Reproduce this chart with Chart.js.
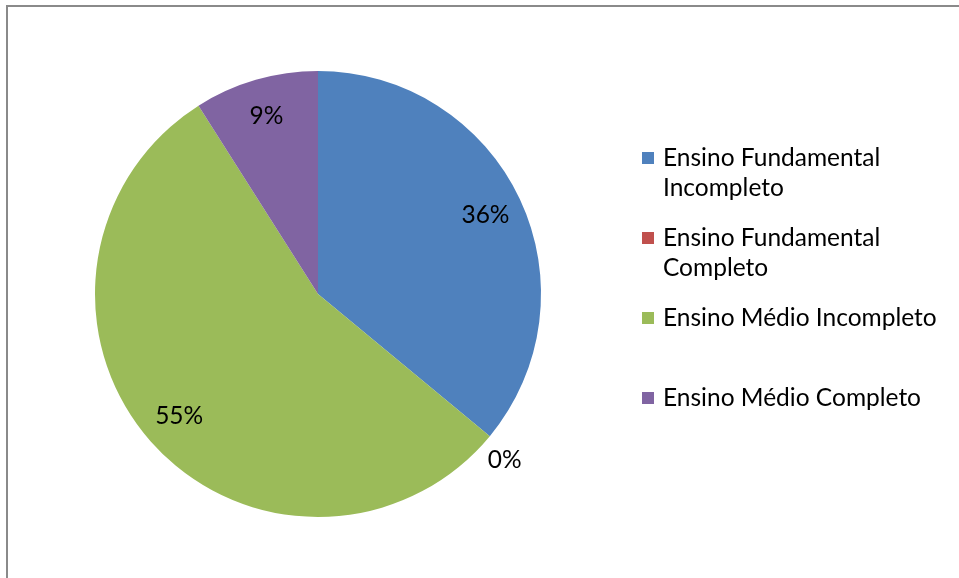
<!DOCTYPE html>
<html>
<head>
<meta charset="utf-8">
<style>
  html, body { margin: 0; padding: 0; background: #ffffff; }
  #wrap { position: relative; width: 959px; height: 578px; }
  canvas { display: block; }
</style>
<script src="https://cdn.jsdelivr.net/npm/chart.js@4/dist/chart.umd.min.js"></script>
</head>
<body>
<div id="wrap"><canvas id="chart" width="959" height="578"></canvas></div>
<script>
// Escolaridade dos entrevistados (%)
const categories = [
  ['Ensino Fundamental', 'Incompleto'],
  ['Ensino Fundamental', 'Completo'],
  ['Ensino Médio Incompleto'],
  ['Ensino Médio Completo']
];
const percentages = [36, 0, 55, 9];
const sliceColors = ['#4F81BD', '#C0504D', '#9BBB59', '#8064A2'];

const FONT = '24.5px Lato, "Open Sans", sans-serif';

// Grey frame along the top and left edges
const framePlugin = {
  id: 'frame',
  beforeDraw(chart) {
    const ctx = chart.ctx;
    ctx.save();
    ctx.strokeStyle = '#8a8a8a';
    ctx.lineWidth = 2;
    ctx.beginPath();
    ctx.moveTo(7, 578);
    ctx.lineTo(7, 6);
    ctx.lineTo(959, 6);
    ctx.stroke();
    ctx.restore();
  }
};

// Percentage labels: inside each slice, outside for empty slices
const sliceLabels = {
  id: 'sliceLabels',
  afterDatasetsDraw(chart) {
    const ctx = chart.ctx;
    const meta = chart.getDatasetMeta(0);
    const values = chart.data.datasets[0].data;
    ctx.save();
    ctx.font = FONT;
    ctx.fillStyle = '#000000';
    ctx.textAlign = 'center';
    ctx.textBaseline = 'middle';
    meta.data.forEach((arc, i) => {
      const p = arc.getProps(['x', 'y', 'startAngle', 'endAngle', 'outerRadius'], true);
      const empty = values[i] === 0;
      const mid = (p.startAngle + p.endAngle) / 2 + (empty ? 0.035 : 0);
      const r = empty ? p.outerRadius * 1.12 : p.outerRadius * 0.83;
      const tx = p.x + Math.cos(mid) * r;
      const ty = p.y + Math.sin(mid) * r;
      ctx.fillText(values[i] + '%', tx, ty);
    });
    ctx.restore();
  }
};

// Legend on the right, with wrapped entries
const sideLegend = {
  id: 'sideLegend',
  afterDraw(chart) {
    const ctx = chart.ctx;
    const rows = [158, 238, 318, 398];
    const lineGap = 30;
    ctx.save();
    ctx.font = FONT;
    ctx.textBaseline = 'middle';
    ctx.textAlign = 'left';
    categories.forEach((lines, i) => {
      const y = rows[i];
      ctx.fillStyle = sliceColors[i];
      ctx.fillRect(642, y - 6, 12, 12);
      ctx.fillStyle = '#000000';
      lines.forEach((t, j) => ctx.fillText(t, 663, y + j * lineGap));
    });
    ctx.restore();
  }
};

new Chart(document.getElementById('chart'), {
  type: 'pie',
  data: {
    labels: categories.map(l => l.join(' ')),
    datasets: [{
      data: percentages,
      backgroundColor: sliceColors,
      borderWidth: 0
    }]
  },
  options: {
    responsive: false,
    animation: false,
    layout: { padding: { left: 95, right: 418, top: 71, bottom: 61 } },
    plugins: {
      legend: { display: false },
      tooltip: { enabled: false }
    }
  },
  plugins: [framePlugin, sliceLabels, sideLegend]
});
</script>
</body>
</html>
